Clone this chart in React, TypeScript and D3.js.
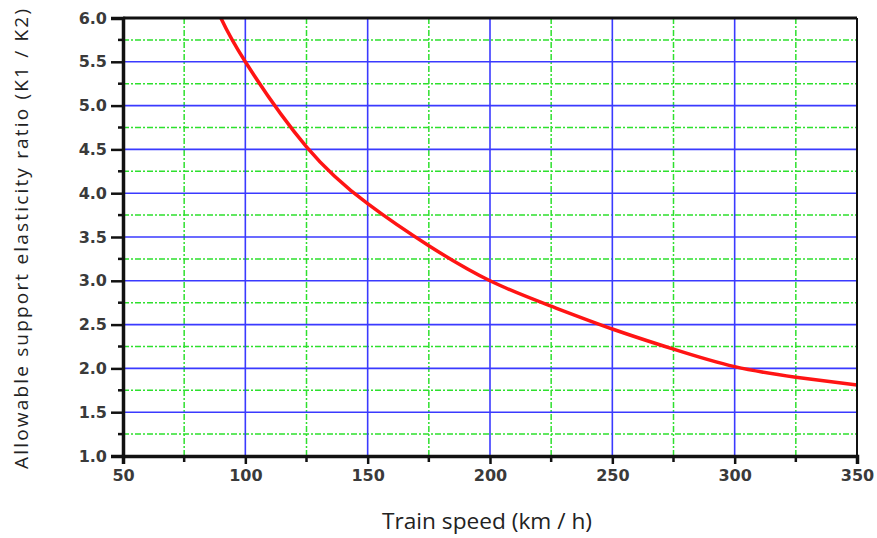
import React, { useEffect, useRef } from "react";
import * as d3 from "d3";

// values
const speeds = [90, 100, 125, 150, 175, 200, 225, 250, 275, 300, 325, 350];
const ratios = [6.0, 5.5, 4.53, 3.88, 3.4, 3.0, 2.71, 2.45, 2.22, 2.02, 1.9, 1.81];

const xMajor = [50, 100, 150, 200, 250, 300, 350];
const xMinor = [75, 125, 175, 225, 275, 325];
const yMajor = [1.0, 1.5, 2.0, 2.5, 3.0, 3.5, 4.0, 4.5, 5.0, 5.5, 6.0];
const yMinor = [1.25, 1.75, 2.25, 2.75, 3.25, 3.75, 4.25, 4.75, 5.25, 5.75];

const App = () => {
    const svgRef = useRef<SVGSVGElement>(null);

    useEffect(() => {
        const width = 877;
        const height = 538;
        const margin = { top: 18, right: 20, bottom: 82, left: 123 };

        const svg = d3.select(svgRef.current)
            .attr("width", width)
            .attr("height", height)
            .style("background", "#fff");

        svg.selectAll("*").remove();

        const x = d3.scaleLinear()
            .domain([50, 350])
            .range([margin.left, width - margin.right]);

        const y = d3.scaleLinear()
            .domain([1, 6])
            .range([height - margin.bottom, margin.top]);

        const [x0, x1] = x.range();
        const [y0, y1] = y.range();

        const grid = svg.append("g");

        // minor grid, green dash-dot
        grid.selectAll(".gx")
            .data(xMinor)
            .enter()
            .append("line")
            .attr("x1", d => x(d)).attr("x2", d => x(d))
            .attr("y1", y1).attr("y2", y0)
            .attr("stroke", "#2ee02e")
            .attr("stroke-width", 1.5)
            .attr("stroke-dasharray", "6,2,2,2");

        grid.selectAll(".gy")
            .data(yMinor)
            .enter()
            .append("line")
            .attr("x1", x0).attr("x2", x1)
            .attr("y1", d => y(d)).attr("y2", d => y(d))
            .attr("stroke", "#2ee02e")
            .attr("stroke-width", 1.5)
            .attr("stroke-dasharray", "6,2,2,2");

        // major grid, blue
        grid.selectAll(".bx")
            .data(xMajor)
            .enter()
            .append("line")
            .attr("x1", d => x(d)).attr("x2", d => x(d))
            .attr("y1", y1).attr("y2", y0)
            .attr("stroke", "#3a3aff")
            .attr("stroke-width", 1.6);

        grid.selectAll(".by")
            .data(yMajor)
            .enter()
            .append("line")
            .attr("x1", x0).attr("x2", x1)
            .attr("y1", d => y(d)).attr("y2", d => y(d))
            .attr("stroke", "#3a3aff")
            .attr("stroke-width", 1.6);

        // curve
        const line = d3.line<number>()
            .x((d, i) => x(speeds[i]))
            .y(d => y(d))
            .curve(d3.curveNatural);

        svg.append("path")
            .datum(ratios)
            .attr("fill", "none")
            .attr("stroke", "#ff1414")
            .attr("stroke-width", 3.5)
            .attr("d", line);

        // frame
        svg.append("line").attr("x1", x0).attr("x2", x1).attr("y1", y1).attr("y2", y1)
            .attr("stroke", "#111").attr("stroke-width", 3);
        svg.append("line").attr("x1", x1).attr("x2", x1).attr("y1", y1).attr("y2", y0)
            .attr("stroke", "#111").attr("stroke-width", 2);

        const tickFont = "DejaVu Sans, Verdana, sans-serif";

        // left axis
        const yAxis = svg.append("g")
            .attr("transform", `translate(${x0}, 0)`)
            .call(d3.axisLeft(y).tickValues(yMajor).tickSize(12).tickPadding(4)
                .tickFormat(d3.format(".1f")));
        yAxis.selectAll(".tick line").attr("stroke", "#111").attr("stroke-width", 2.5);
        yAxis.selectAll(".tick text")
            .attr("fill", "#3a3a3a")
            .style("font-family", tickFont)
            .style("font-size", "16px")
            .style("font-weight", "bold");
        yAxis.select(".domain").attr("stroke", "#111").attr("stroke-width", 3.5);

        svg.append("g").selectAll("line")
            .data(yMinor)
            .enter()
            .append("line")
            .attr("x1", x0 - 5).attr("x2", x0)
            .attr("y1", d => y(d)).attr("y2", d => y(d))
            .attr("stroke", "#111").attr("stroke-width", 2.5);

        // bottom axis
        const xAxis = svg.append("g")
            .attr("transform", `translate(0, ${y0})`)
            .call(d3.axisBottom(x).tickValues(xMajor).tickSize(8).tickPadding(6));
        xAxis.selectAll(".tick line").attr("stroke", "#111").attr("stroke-width", 2.5);
        xAxis.selectAll(".tick text")
            .attr("fill", "#3a3a3a")
            .style("font-family", tickFont)
            .style("font-size", "16px")
            .style("font-weight", "bold");
        xAxis.select(".domain").attr("stroke", "#111").attr("stroke-width", 3.5);

        svg.append("g").selectAll("line")
            .data(xMinor)
            .enter()
            .append("line")
            .attr("x1", d => x(d)).attr("x2", d => x(d))
            .attr("y1", y0).attr("y2", y0 + 6)
            .attr("stroke", "#111").attr("stroke-width", 2.5);

        // axis titles
        svg.append("text")
            .attr("x", 487)
            .attr("y", 529)
            .attr("text-anchor", "middle")
            .attr("fill", "#222")
            .attr("textLength", 210)
            .attr("lengthAdjust", "spacingAndGlyphs")
            .style("font-family", "Open Sans, Noto Sans, sans-serif")
            .style("font-size", "22px")
            .text("Train speed (km / h)");

        svg.append("text")
            .attr("transform", "translate(28, 239) rotate(-90)")
            .attr("text-anchor", "middle")
            .attr("fill", "#222")
            .attr("textLength", 460)
            .attr("lengthAdjust", "spacing")
            .style("font-family", "Open Sans, Noto Sans, sans-serif")
            .style("font-size", "19px")
            .text("Allowable support elasticity ratio (K1 / K2)");
    }, []);

    return (
        <svg
            ref={svgRef}
            style={{ position: "absolute", left: 0, top: 0, display: "block" }}
        ></svg>
    );
};

export default App;
